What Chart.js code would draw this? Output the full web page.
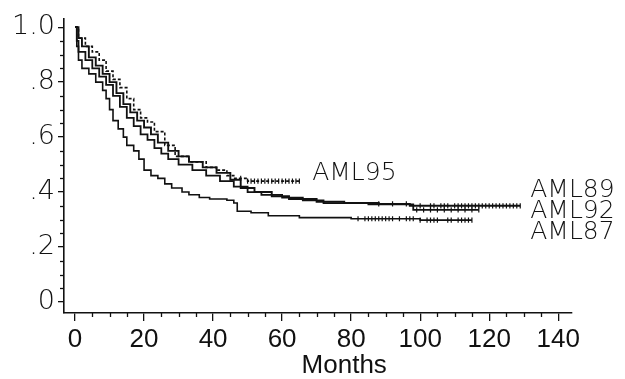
<!DOCTYPE html>
<html>
<head>
<meta charset="utf-8">
<script src="https://cdn.jsdelivr.net/npm/chart.js@4/dist/chart.umd.min.js"></script>
<style>
html,body{margin:0;padding:0;background:#fff;}
#wrap{width:625px;height:379px;}
</style>
</head>
<body>
<div id="wrap"><canvas id="c" width="625" height="379"></canvas></div>
<script>
// ---- data (months, survival) ----
const aml87Months = [0, 0.5, 1, 2, 4, 6, 8, 9, 10, 11, 12.5, 14, 15, 17, 18.5, 20, 22, 24, 26, 28, 31, 33, 36, 39, 44, 46, 47, 51, 56, 65, 80, 100, 115];
const aml87Surv   = [1.0, 0.93, 0.88, 0.85, 0.83, 0.80, 0.77, 0.74, 0.70, 0.66, 0.63, 0.60, 0.57, 0.55, 0.52, 0.48, 0.46, 0.45, 0.43, 0.415, 0.40, 0.39, 0.38, 0.375, 0.37, 0.36, 0.33, 0.325, 0.314, 0.307, 0.303, 0.298, 0.298];

const aml89Months = [0, 1, 2, 4, 6, 8, 10, 12, 14, 16, 18, 20, 22, 24, 27, 30, 33, 37, 41, 45, 48, 52, 57, 62, 70, 78, 88, 97, 129];
const aml89Surv   = [1.0, 0.96, 0.93, 0.89, 0.86, 0.83, 0.80, 0.76, 0.72, 0.69, 0.66, 0.635, 0.61, 0.58, 0.55, 0.53, 0.51, 0.49, 0.47, 0.445, 0.415, 0.40, 0.385, 0.375, 0.365, 0.36, 0.357, 0.35, 0.35];

const aml92Months = [0, 0.5, 1, 3, 5, 7, 9, 11, 13, 15, 17, 19, 21, 23, 25, 27, 30, 34, 38, 42, 46, 50, 54, 60, 66, 72, 85, 98, 117];
const aml92Surv   = [1.0, 0.95, 0.91, 0.88, 0.85, 0.82, 0.79, 0.75, 0.71, 0.67, 0.64, 0.61, 0.59, 0.56, 0.54, 0.52, 0.50, 0.48, 0.46, 0.44, 0.42, 0.40, 0.39, 0.38, 0.37, 0.36, 0.355, 0.335, 0.335];

const aml95Months = [0, 1, 3, 5, 7, 9, 11, 13, 15, 17, 19, 21, 23, 26, 29, 33, 38, 41, 44, 46, 50, 65];
const aml95Surv   = [1.0, 0.96, 0.93, 0.91, 0.88, 0.84, 0.81, 0.78, 0.74, 0.70, 0.67, 0.655, 0.62, 0.57, 0.53, 0.51, 0.49, 0.48, 0.46, 0.45, 0.44, 0.44];

// censoring times (months)
const aml87Censor = [82, 84, 85, 86, 87, 88, 89, 90, 91, 92, 94, 96, 97, 98, 100, 102, 103, 104, 105, 108, 109, 111, 112, 113, 114, 115];
const aml89Censor = [88, 92, 96, 100, 103, 104, 106, 107, 108, 110, 111, 112, 113, 114, 115, 116, 117, 118, 119, 120, 121, 122, 123, 124, 125, 126, 127, 128, 129];
const aml92Censor = [99, 101, 103, 105, 107, 109, 111, 113, 115, 117];
const aml95Censor = [48, 50, 51, 52, 53, 54, 55, 56, 57, 58, 59, 60, 61, 62, 63, 64, 65];

// axis ticks
const xTicks = [0, 20, 40, 60, 80, 100, 120, 140];
const xMinorTicks = [5, 10, 15, 25, 30, 35, 45, 50, 55, 65, 70, 75, 85, 90, 95, 105, 110, 115, 125, 130, 135];
const yTicks = [0, 0.2, 0.4, 0.6, 0.8, 1.0];
const yTickLabels = ['0', '.2', '.4', '.6', '.8', '1.0'];
const yMinorTicks = [0.05, 0.1, 0.15, 0.25, 0.3, 0.35, 0.45, 0.5, 0.55, 0.65, 0.7, 0.75, 0.85, 0.9, 0.95];

const seriesNames = ['AML87', 'AML89', 'AML92', 'AML95'];

// ---- helpers ----
function pts(ms, ss) { return ms.map((m, i) => ({x: m, y: ss[i]})); }
function stepAt(ms, ss, t) {
  let v = ss[0];
  for (let i = 0; i < ms.length; i++) { if (ms[i] <= t) v = ss[i]; }
  return v;
}
function censorPts(cs, ms, ss) { return cs.map(t => ({x: t, y: stepAt(ms, ss, t)})); }

const lineStyle = {borderColor: '#111', borderWidth: 1.6, pointRadius: 0, stepped: true, fill: false, tension: 0};
const censorStyle = {type: 'scatter', showLine: false, pointStyle: 'line', rotation: 90, pointRadius: 2.6, borderColor: '#111', borderWidth: 1.2, backgroundColor: '#111'};

const datasets = [
  Object.assign({label: seriesNames[0], data: pts(aml87Months, aml87Surv)}, lineStyle),
  Object.assign({label: seriesNames[1], data: pts(aml89Months, aml89Surv)}, lineStyle, {borderWidth: 1.9}),
  Object.assign({label: seriesNames[2], data: pts(aml92Months, aml92Surv)}, lineStyle, {borderWidth: 1.8}),
  Object.assign({label: seriesNames[3], data: pts(aml95Months, aml95Surv)}, lineStyle, {borderDash: [3, 2], borderWidth: 1.6}),
  Object.assign({label: 'c87', data: censorPts(aml87Censor, aml87Months, aml87Surv)}, censorStyle),
  Object.assign({label: 'c89', data: censorPts(aml89Censor, aml89Months, aml89Surv)}, censorStyle),
  Object.assign({label: 'c92', data: censorPts(aml92Censor, aml92Months, aml92Surv)}, censorStyle),
  Object.assign({label: 'c95', data: censorPts(aml95Censor, aml95Months, aml95Surv)}, censorStyle)
];

// curve label anchors (in data units)
const curveLabels = [
  {text: 'AML95', x: 68.7, y: 0.466},
  {text: 'AML89', x: 131.9, y: 0.404},
  {text: 'AML92', x: 131.9, y: 0.329},
  {text: 'AML87', x: 131.9, y: 0.253}
];

const extras = {
  id: 'extras',
  afterDraw(chart) {
    const ctx = chart.ctx, xs = chart.scales.x, ys = chart.scales.y;
    ctx.save();
    ctx.strokeStyle = '#111';
    ctx.lineWidth = 1.3;
    const yb = ys.bottom;
    xMinorTicks.forEach(v => {
      const px = Math.round(xs.getPixelForValue(v)) + 0.5;
      ctx.beginPath(); ctx.moveTo(px, yb); ctx.lineTo(px, yb + 4); ctx.stroke();
    });
    const xl = xs.left;
    yMinorTicks.forEach(v => {
      const py = Math.round(ys.getPixelForValue(v)) + 0.5;
      ctx.beginPath(); ctx.moveTo(xl, py); ctx.lineTo(xl - 4, py); ctx.stroke();
    });
    ctx.fillStyle = '#111';
    ctx.font = '200 25px "DejaVu Sans"';
    ctx.textAlign = 'left';
    ctx.textBaseline = 'middle';
    curveLabels.forEach(l => {
      ctx.fillText(l.text, xs.getPixelForValue(l.x), ys.getPixelForValue(l.y));
    });
    ctx.font = '26px "Liberation Sans"';
    ctx.textAlign = 'center';
    ctx.fillText('Months', xs.getPixelForValue(78), 366);
    ctx.restore();
  }
};

new Chart(document.getElementById('c'), {
  type: 'line',
  data: {datasets},
  options: {
    responsive: false,
    animation: false,
    layout: {padding: {top: 17, right: 53, left: 0, bottom: 0}},
    plugins: {legend: {display: false}, tooltip: {enabled: false}},
    scales: {
      x: {
        type: 'linear',
        min: -3.2, max: 144,
        afterBuildTicks: s => { s.ticks = xTicks.map(v => ({value: v})); },
        afterFit: s => { s.height = 66; },
        grid: {drawOnChartArea: false, drawTicks: true, tickLength: 8, color: '#111', lineWidth: 1.3},
        border: {display: true, color: '#111', width: 1.6},
        ticks: {color: '#111', padding: 3, maxRotation: 0, autoSkip: false,
          font: {family: '"Liberation Sans Narrow", "Liberation Sans"', size: 26},
          callback: v => String(v)}
      },
      y: {
        type: 'linear',
        min: -0.04, max: 1.029,
        afterBuildTicks: s => { s.ticks = yTicks.map(v => ({value: v})); },
        afterFit: s => { s.width = 64; },
        grid: {drawOnChartArea: false, drawTicks: true, tickLength: 6, color: '#111', lineWidth: 1.3},
        border: {display: true, color: '#111', width: 1.6},
        ticks: {color: '#111', padding: 3, autoSkip: false,
          font: {family: '"DejaVu Sans"', size: 27, weight: '200'},
          callback: v => { const i = yTicks.findIndex(t => Math.abs(t - v) < 1e-6); return i >= 0 ? yTickLabels[i] : ''; }}
      }
    }
  },
  plugins: [extras]
});
</script>
</body>
</html>
